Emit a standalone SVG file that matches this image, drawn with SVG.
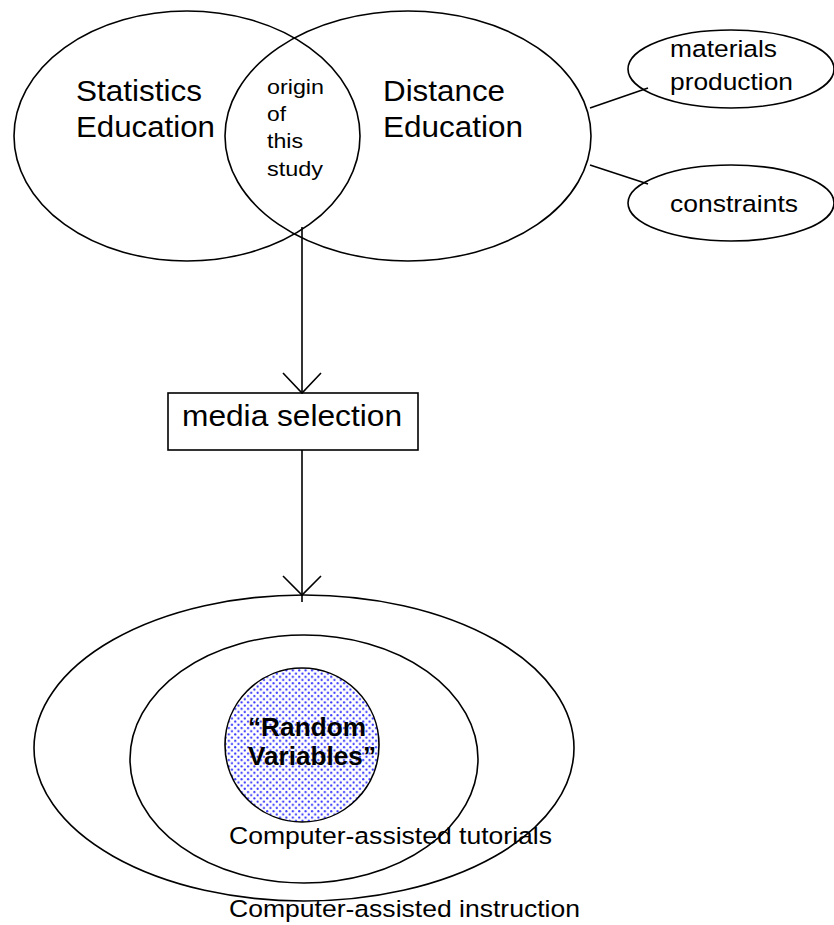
<svg xmlns="http://www.w3.org/2000/svg" width="834" height="925" viewBox="0 0 834 925">
  <style>
    .shape { fill: none; stroke: #000; stroke-width: 1.6; }
    .line { fill: none; stroke: #000; stroke-width: 1.6; }
    .lbl { font-family: "Liberation Sans", Arial, sans-serif; fill: #000; }
    .big { font-size: 29px; }
    .mid { font-size: 24.5px; }
    .small { font-size: 21px; }
    .bold { font-size: 25px; font-weight: bold; }
  </style>
  <defs>
    <pattern id="dots" width="6.4" height="6.4" patternUnits="userSpaceOnUse">
      <rect width="6.4" height="6.4" fill="#fff"/>
      <circle cx="1.6" cy="1.6" r="1.1" fill="#3434ff"/>
      <circle cx="4.8" cy="4.8" r="1.1" fill="#3434ff"/>
    </pattern>
  </defs>

  <rect width="834" height="925" fill="#fff"/>

  <!-- overlapping fields -->
  <g id="statistics-education">
    <ellipse class="shape" cx="187" cy="136" rx="173" ry="125"/>
    <text class="lbl big" x="76" y="101" textLength="126" lengthAdjust="spacingAndGlyphs">Statistics</text>
    <text class="lbl big" x="76" y="137" textLength="139" lengthAdjust="spacingAndGlyphs">Education</text>
  </g>

  <g id="distance-education">
    <ellipse class="shape" cx="408" cy="136" rx="183" ry="125"/>
    <text class="lbl big" x="383" y="101" textLength="122" lengthAdjust="spacingAndGlyphs">Distance</text>
    <text class="lbl big" x="383" y="137" textLength="140" lengthAdjust="spacingAndGlyphs">Education</text>
  </g>

  <g id="origin">
    <text class="lbl small" x="267" y="94" textLength="57" lengthAdjust="spacingAndGlyphs">origin</text>
    <text class="lbl small" x="267" y="121" textLength="19" lengthAdjust="spacingAndGlyphs">of</text>
    <text class="lbl small" x="267" y="148" textLength="36" lengthAdjust="spacingAndGlyphs">this</text>
    <text class="lbl small" x="267" y="176" textLength="56" lengthAdjust="spacingAndGlyphs">study</text>
  </g>

  <g id="materials-production">
    <ellipse class="shape" cx="731" cy="69" rx="103" ry="39"/>
    <text class="lbl mid" x="670" y="57" textLength="107" lengthAdjust="spacingAndGlyphs">materials</text>
    <text class="lbl mid" x="670" y="90" textLength="123" lengthAdjust="spacingAndGlyphs">production</text>
  </g>

  <g id="constraints">
    <ellipse class="shape" cx="731" cy="203" rx="103" ry="38"/>
    <text class="lbl mid" x="670" y="212" textLength="128" lengthAdjust="spacingAndGlyphs">constraints</text>
  </g>

  <g id="media-selection">
    <rect class="shape" x="168" y="393" width="250" height="57"/>
    <text class="lbl big" x="182" y="426" textLength="220" lengthAdjust="spacingAndGlyphs">media selection</text>
  </g>

  <!-- nested media levels -->
  <g id="computer-assisted-instruction">
    <ellipse class="shape" cx="304" cy="748" rx="270" ry="153"/>
    <text class="lbl mid" x="229" y="917" textLength="351" lengthAdjust="spacingAndGlyphs">Computer-assisted instruction</text>
  </g>

  <g id="computer-assisted-tutorials">
    <ellipse class="shape" cx="304" cy="759" rx="174" ry="124"/>
    <text class="lbl mid" x="229" y="844" textLength="323" lengthAdjust="spacingAndGlyphs">Computer-assisted tutorials</text>
  </g>

  <g id="random-variables">
    <circle cx="302" cy="745" r="77" fill="url(#dots)" stroke="#000" stroke-width="1.6"/>
    <text class="lbl bold" x="248" y="736" textLength="118" lengthAdjust="spacingAndGlyphs">“Random</text>
    <text class="lbl bold" x="248" y="765" textLength="128" lengthAdjust="spacingAndGlyphs">Variables”</text>
  </g>

  <!-- connectors -->
  <g id="connectors">
    <line class="line" x1="590" y1="108" x2="648" y2="88"/>
    <line class="line" x1="590" y1="165" x2="648" y2="184"/>
    <line class="line" x1="302" y1="227" x2="302" y2="393"/>
    <polyline class="line" points="283,373 302,393 321,373"/>
    <line class="line" x1="302" y1="450" x2="302" y2="602"/>
    <polyline class="line" points="283,576 302,595 321,576"/>
  </g>
</svg>
